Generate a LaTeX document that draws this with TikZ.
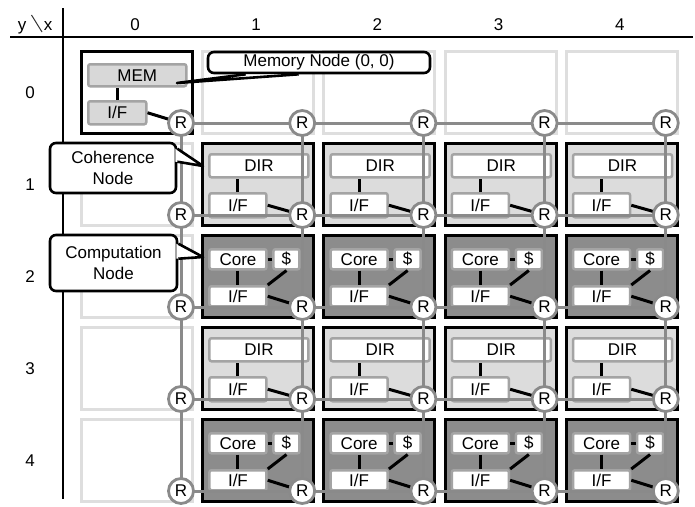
\documentclass[tikz,border=0pt]{standalone}
\usepackage{fontspec}
\setmainfont{Liberation Sans}
\usetikzlibrary{calc}
\definecolor{ghostgray}{HTML}{DEDEDE}
\definecolor{wiregray}{HTML}{8A8A8A}
\definecolor{lightfill}{HTML}{DCDCDC}
\definecolor{darkfill}{HTML}{8C8C8C}
\definecolor{uborder}{HTML}{A4A4A4}
\definecolor{memfill}{HTML}{D8D8D8}
\begin{document}
\begin{tikzpicture}[x=1pt,y=-1pt,
  every node/.style={font=\fontsize{17}{21}\selectfont, text=black},
  axisline/.style={black, line width=2.6pt},
  cellbox/.style={line width=3pt, minimum width=111pt, minimum height=82pt, anchor=north west, inner sep=0pt},
  ghostcell/.style={cellbox, draw=ghostgray},
  membox/.style={cellbox, draw=black, fill=white},
  cohbox/.style={cellbox, draw=black, fill=lightfill},
  compbox/.style={cellbox, draw=black, fill=darkfill},
  ubox/.style={draw=uborder, line width=2.5pt, fill=white, rounded corners=2pt, inner sep=0pt, anchor=north west},
  linkline/.style={black, line width=3pt},
  wire/.style={wiregray, line width=3pt},
  router/.style={circle, draw=wiregray, fill=white, line width=2.8pt, minimum size=25pt, inner sep=0pt},
  cbox/.style={draw=black, fill=white, line width=2.6pt, rounded corners=6pt, inner sep=0pt, align=center},
  ptr/.style={draw=black, line width=2.6pt, line join=round}
]
\useasboundingbox (0,0) rectangle (695,506);
\fill[white] (0,0) rectangle (695,506);

% axes
\draw[axisline] (10,37) -- (693,37);
\draw[axisline] (63,8) -- (63,499);
\node[anchor=base] (hy) at (22,30) {y};
\node[anchor=base] (hx) at (48,30) {x};
\draw[black!80, line width=1pt] (31.5,15) -- (42,32);
\foreach \c in {0,...,4}{
  \pgfmathsetmacro\xl{80+121.2*\c}
  \node[anchor=base] (col-\c) at ({\xl+55},30) {\c};
}
\foreach \r in {0,...,4}{
  \pgfmathsetmacro\yt{50+92*\r}
  \node (row-\r) at (30,{\yt+43}) {\r};
}

% router coordinates
\foreach \c in {0,...,4}{
  \foreach \r in {0,...,4}{
    \pgfmathsetmacro\xl{80+121.2*\c}
    \pgfmathsetmacro\yt{50+92*\r}
    \coordinate (p-\c-\r) at ({\xl+101},{\yt+73});
  }
}

% ghost cells
\foreach \c in {1,...,4}{
  \pgfmathsetmacro\xl{80+121.2*\c}
  \node[ghostcell] (cell-\c-0) at (\xl,50) {};
}
\foreach \r in {1,...,4}{
  \pgfmathsetmacro\yt{50+92*\r}
  \node[ghostcell] (cell-0-\r) at (80,\yt) {};
}

% memory node
\node[membox] (cell-0-0) at (80,50) {};
\node[ubox, fill=memfill, minimum width=98pt, minimum height=22pt] (mem) at (87,63) {MEM};
\node[ubox, fill=memfill, minimum width=58pt, minimum height=23pt] (if-0-0) at (87,100) {I/F};
\draw[linkline] (if-0-0.north) -- (if-0-0.north |- mem.south);
\draw[linkline] (if-0-0.east) -- (p-0-0);

% coherence nodes
\foreach \c in {1,...,4}{
  \foreach \r in {1,3}{
    \pgfmathsetmacro\xl{80+121.2*\c}
    \pgfmathsetmacro\yt{50+92*\r}
    \node[cohbox] (cell-\c-\r) at (\xl,\yt) {};
    \node[ubox, minimum width=99pt, minimum height=23pt] (dir-\c-\r) at ({\xl+7},{\yt+11}) {DIR};
    \node[ubox, minimum width=57pt, minimum height=24pt] (if-\c-\r) at ({\xl+7},{\yt+50}) {I/F};
    \draw[linkline] (if-\c-\r.north) -- (if-\c-\r.north |- dir-\c-\r.south);
    \draw[linkline] (if-\c-\r.east) -- (p-\c-\r);
  }
}

% computation nodes
\foreach \c in {1,...,4}{
  \foreach \r in {2,4}{
    \pgfmathsetmacro\xl{80+121.2*\c}
    \pgfmathsetmacro\yt{50+92*\r}
    \node[compbox] (cell-\c-\r) at (\xl,\yt) {};
    \node[ubox, minimum width=57pt, minimum height=20pt] (core-\c-\r) at ({\xl+7},{\yt+14}) {Core};
    \node[ubox, minimum width=26pt, minimum height=20pt] (cache-\c-\r) at ({\xl+71},{\yt+14}) {\$};
    \node[ubox, minimum width=57pt, minimum height=20pt] (if-\c-\r) at ({\xl+7},{\yt+51}) {I/F};
    \draw[linkline] (core-\c-\r.east) -- (cache-\c-\r.west);
    \draw[linkline] (core-\c-\r.south) -- (if-\c-\r.north);
    \draw[linkline] (cache-\c-\r.south) -- (if-\c-\r.north east);
    \draw[linkline] (if-\c-\r.east) -- (p-\c-\r);
  }
}

% network wires
\foreach \r in {0,...,4}{
  \draw[wire] (p-0-\r) -- (p-4-\r);
}
\foreach \c in {0,...,4}{
  \draw[wire] (p-\c-0) -- (p-\c-4);
}

% routers
\foreach \c in {0,...,4}{
  \foreach \r in {0,...,4}{
    \node[router] (R-\c-\r) at (p-\c-\r) {R};
  }
}

% callouts
\coordinate (memtip) at (177,83);
\node[cbox, minimum width=222pt, minimum height=21pt] (memcall) at (319,62.5) {Memory Node (0, 0)};
\draw[ptr, fill=white] ([xshift=39pt]memcall.south west) -- (memtip) -- ([xshift=92pt]memcall.south west);

\coordinate (cohtip) at (203,166);
\node[cbox, minimum width=126pt, minimum height=50pt] (cohcall) at (113,168) {Coherence\\Node};
\fill[white] ([xshift=-2pt,yshift=-7pt]cohcall.north east) -- (cohtip) -- ([xshift=-2pt,yshift=-20pt]cohcall.north east) -- cycle;
\draw[ptr] ([yshift=-7pt]cohcall.north east) -- (cohtip) -- ([yshift=-20pt]cohcall.north east);

\coordinate (comptip) at (203,257);
\node[cbox, minimum width=127pt, minimum height=56pt] (compcall) at (113.5,263) {Computation\\Node};
\fill[white] ([xshift=-2pt,yshift=-10pt]compcall.north east) -- (comptip) -- ([xshift=-2pt,yshift=-25pt]compcall.north east) -- cycle;
\draw[ptr] ([yshift=-10pt]compcall.north east) -- (comptip) -- ([yshift=-25pt]compcall.north east);
\end{tikzpicture}
\end{document}
